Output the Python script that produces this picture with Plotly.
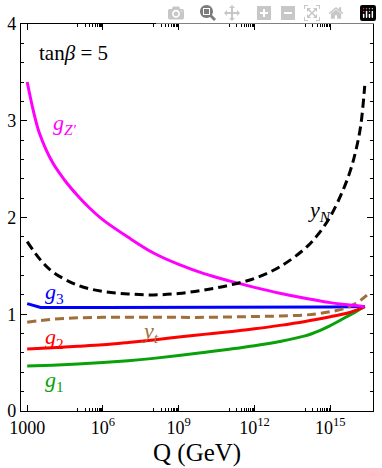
import plotly.graph_objects as go

# ---------------- data ----------------
q_gzp = [1e3, 1.8e3, 3.16e3, 1e4, 3.16e4, 1e5, 3.16e5, 1e6, 1e7, 1e8, 1e9, 1e10, 1e11, 1e12, 1e13, 1e14, 1e15, 1e16, 2.3e16]
g_zp = [3.40, 3.09, 2.86, 2.57, 2.38, 2.225, 2.09, 1.975, 1.795, 1.633, 1.515, 1.42, 1.345, 1.278, 1.217, 1.165, 1.12, 1.09, 1.078]

q_yn = [1e3, 3.16e3, 1e4, 1e5, 1e6, 1e7, 1e8, 1e9, 1e10, 1e11, 1e12, 1e13, 1e14, 3.16e14, 1e15, 3.16e15, 6.3e15, 1e16, 1.6e16, 2.3e16]
y_n = [1.75, 1.57, 1.44, 1.30, 1.235, 1.21, 1.20, 1.215, 1.25, 1.30, 1.37, 1.49, 1.68, 1.82, 2.01, 2.28, 2.49, 2.68, 2.95, 3.36]

q_g3 = [1e3, 3.4e3, 1e6, 1e9, 1e12, 1e15, 2.3e16]
g_3 = [1.11, 1.07, 1.07, 1.07, 1.07, 1.075, 1.08]

q_g2 = [1e3, 1e4, 1e5, 1e6, 1e7, 1e8, 1e9, 1e10, 1e11, 1e12, 1e13, 1e14, 1e15, 4.5e15, 1e16, 2.3e16]
g_2 = [0.641, 0.654, 0.668, 0.684, 0.708, 0.735, 0.764, 0.792, 0.82, 0.849, 0.885, 0.926, 0.975, 1.01, 1.04, 1.08]

q_g1 = [1e3, 1e4, 1e5, 1e6, 1e7, 1e8, 1e9, 1e10, 1e11, 1e12, 1e13, 1e14, 4e14, 1e15, 3.16e15, 1e16, 2.3e16]
g_1 = [0.465, 0.474, 0.486, 0.501, 0.52, 0.544, 0.573, 0.605, 0.638, 0.674, 0.718, 0.776, 0.834, 0.882, 0.953, 1.025, 1.08]

q_yt = [1e3, 3.16e3, 1e4, 3.16e4, 1e5, 1e6, 1e7, 1e8, 1e9, 1e10, 1e11, 1e12, 1e13, 1e14, 3.16e14, 1e15, 3.16e15, 1e16, 2e16, 3.5e16]
y_t = [0.917, 0.935, 0.948, 0.957, 0.963, 0.968, 0.97, 0.97, 0.968, 0.968, 0.972, 0.977, 0.982, 0.992, 1.005, 1.026, 1.055, 1.11, 1.165, 1.22]

x_tickvals = [1e3, 1e6, 1e9, 1e12, 1e15]
x_ticktext = ["1000", "10<sup>6</sup>", "10<sup>9</sup>", "10<sup>12</sup>", "10<sup>15</sup>"]
x_minor = [m * 10 ** e for e in (5, 8, 11, 14) for m in range(1, 10)]
y_tickvals = [0, 1, 2, 3, 4]

FONT = "Liberation Serif"

fig = go.Figure()

def add(x, y, color, dash="solid", shape="spline"):
    fig.add_trace(go.Scatter(
        x=x, y=y, mode="lines",
        line=dict(color=color, width=3, dash=dash, shape=shape, smoothing=1.0),
        showlegend=False, hoverinfo="skip"))

add(q_g1, g_1, "#0AA00A")
add(q_g2, g_2, "#FF0000")
add(q_g3, g_3, "#0000FF", shape="linear")
add(q_yt, y_t, "#A06E3A", dash="9px,5px")
add(q_gzp, g_zp, "#FF00FF")
add(q_yn, y_n, "#000000", dash="9px,5px")

def label(x, y, text, color, size=22):
    fig.add_annotation(x=x, y=y, xref="x", yref="y", text=text, showarrow=False,
                       xanchor="left", yanchor="middle",
                       font=dict(family=FONT, size=size, color=color))

# annotation x in log10 units (log axis)
label(3.37, 3.70, "tan<i>β</i> = 5", "black", 21)
label(3.95, 2.97, "<i>g<sub>Z′</sub></i>", "#FF00FF")
label(14.02, 2.07, "<i>y<sub>N</sub></i>", "black")
label(3.62, 1.22, "<i>g</i><sub>3</sub>", "#0000FF")
label(3.62, 0.755, "<i>g</i><sub>2</sub>", "#FF0000")
label(7.45, 0.82, "<i>y<sub>t</sub></i>", "#A06E3A")
label(3.62, 0.31, "<i>g</i><sub>1</sub>", "#0AA00A")

# x-axis title placed below the tick labels
fig.add_annotation(x=0.5, y=-0.108, xref="paper", yref="paper", text="Q (GeV)",
                   showarrow=False, xanchor="center", yanchor="middle",
                   font=dict(family=FONT, size=25, color="black"))

fig.update_layout(
    width=382, height=468,
    margin=dict(l=21, r=9, t=24, b=57),
    paper_bgcolor="white", plot_bgcolor="white",
    font=dict(family=FONT, size=18, color="black"),
    xaxis=dict(
        type="log", range=[2.755, 16.69], automargin=False,
        tickmode="array", tickvals=x_tickvals, ticktext=x_ticktext,
        ticks="inside", ticklen=6, tickwidth=1, tickcolor="black",
        showline=True, linecolor="black", linewidth=1.3, mirror="ticks",
        showgrid=False, zeroline=False, ticklabelstandoff=0,
        tickfont=dict(family=FONT, size=18, color="black"),
        minor=dict(tickmode="array", tickvals=x_minor, ticks="inside",
                   ticklen=3, tickwidth=1, tickcolor="black", showgrid=False),
    ),
    yaxis=dict(
        range=[0, 4], automargin=False,
        tickmode="array", tickvals=y_tickvals,
        ticks="inside", ticklen=6, tickwidth=1, tickcolor="black",
        showline=True, linecolor="black", linewidth=1.3, mirror="ticks",
        showgrid=False, zeroline=False,
        tickfont=dict(family=FONT, size=18, color="black"),
        minor=dict(dtick=0.2, ticks="inside", ticklen=3, tickwidth=1,
                   tickcolor="black", showgrid=False),
    ),
)

# remove the browser's default 8px page margin so the figure fills the window
fig.write_html("out.html",
               post_script="document.body.style.margin='0px';document.body.style.overflow='hidden';")
